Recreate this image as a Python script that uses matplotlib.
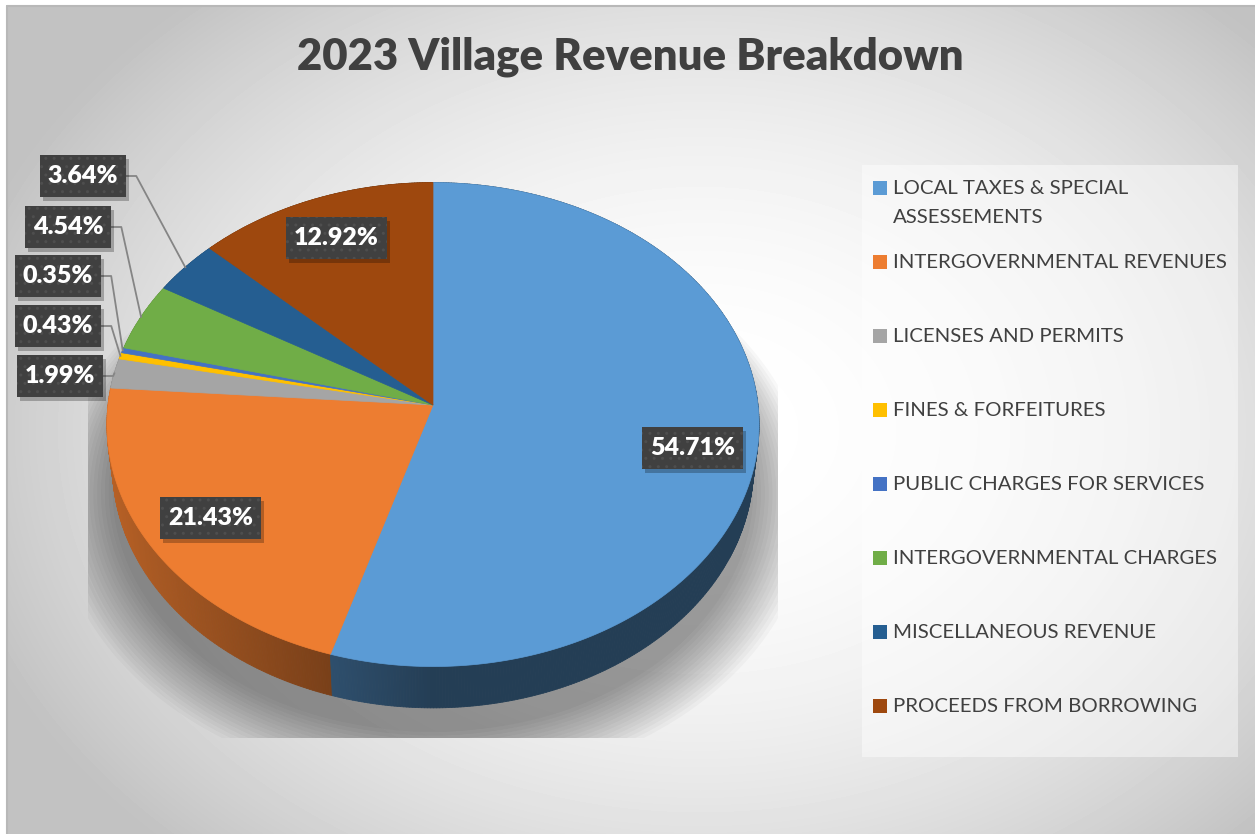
import numpy as np
import matplotlib.pyplot as plt
from matplotlib.patches import Rectangle, Polygon
from matplotlib.collections import PolyCollection

# data
categories = ["LOCAL TAXES & SPECIAL\nASSESSEMENTS", "INTERGOVERNMENTAL REVENUES",
              "LICENSES AND PERMITS", "FINES & FORFEITURES",
              "PUBLIC CHARGES FOR SERVICES", "INTERGOVERNMENTAL CHARGES",
              "MISCELLANEOUS REVENUE", "PROCEEDS FROM BORROWING"]
shares = [54.71, 21.43, 1.99, 0.43, 0.35, 4.54, 3.64, 12.92]
colors = ["#5B9BD5", "#ED7D31", "#A5A5A5", "#FFC000",
          "#4472C4", "#70AD47", "#255E91", "#9E480E"]
title = "2023 Village Revenue Breakdown"

# labels of thin slices sit in a column on the left (screen px)
outer_label_pos = {2: (60, 376), 3: (58, 326), 4: (58, 276), 5: (68, 227), 6: (83, 176)}

W, H = 1255, 834
FONT = "Lato"
plt.rcParams['font.family'] = [FONT, 'DejaVu Sans']

fig = plt.figure(figsize=(W / 100, H / 100), dpi=100, facecolor="white")
ax = fig.add_axes([0, 0, 1, 1])
ax.set_xlim(0, W)
ax.set_ylim(H, 0)
ax.axis("off")

# background radial gradient
yy, xx = np.mgrid[0:H, 0:W]
dn = np.sqrt(((xx - 700) / 640.0) ** 2 + ((yy - 430) / 480.0) ** 2)
bg = 1 - 0.24 * np.clip(dn / 1.2, 0, 1) ** 2
ax.imshow(bg[5:, 6:], cmap="gray", vmin=0, vmax=1, extent=(6, W, H, 5),
          zorder=0, interpolation="bilinear")
ax.plot([6.5, 6.5, W], [H, 5.5, 5.5], color="#b8b8b8", lw=1.5, zorder=1)

# 3d pie projection
cx, cy = 433, 405
tilt = np.radians(47.7)
D, f, depth = 8.32, 2704.0, 0.198
st, ct = np.sin(tilt), np.cos(tilt)


def proj(ang, r=1.0, z=0.0):
    x = r * np.sin(ang)
    y = r * np.cos(ang)
    v = y * st + z * ct
    w = D + y * ct - z * st
    return cx + f * x / w, cy - f * v / w


bounds = np.concatenate([[0], np.cumsum(shares)]) / sum(shares) * 2 * np.pi

# soft shadow clipped to the plot area
clip = Rectangle((88, 110), 690, 628, transform=ax.transData)
full = np.linspace(0, 2 * np.pi, 240)
bx, by = proj(full, 1.0, -depth)
for k in range(16):
    s = 1.0 + 0.012 * k
    sh = Polygon(np.column_stack([cx + (bx - cx) * s, cy + 24 + (by - cy) * s]),
                 closed=True, fc="black", ec="none", alpha=0.026, zorder=2)
    ax.add_patch(sh)
    sh.set_clip_path(clip)

# side walls, far to near
quads, qcols, keys = [], [], []
for i, c in enumerate(colors):
    base = np.array(plt.matplotlib.colors.to_rgb(c))
    n = max(2, int(np.degrees(bounds[i + 1] - bounds[i]) / 0.5) + 1)
    a = np.linspace(bounds[i], bounds[i + 1], n)
    for a0, a1 in zip(a[:-1], a[1:]):
        x0, y0 = proj(a0)
        x1, y1 = proj(a1)
        x2, y2 = proj(a1, 1.0, -depth)
        x3, y3 = proj(a0, 1.0, -depth)
        quads.append([(x0, y0), (x1, y1), (x2, y2), (x3, y3)])
        am = 0.5 * (a0 + a1)
        fac = 0.4 + 0.38 * max(0.0, -np.sin(am))
        qcols.append(base * fac)
        keys.append(-np.cos(am))
order = np.argsort(keys)
ax.add_collection(PolyCollection([quads[j] for j in order],
                                 facecolors=[qcols[j] for j in order],
                                 edgecolors=[qcols[j] for j in order],
                                 linewidths=0.6, zorder=3))

# top face
for i, c in enumerate(colors):
    n = max(2, int(np.degrees(bounds[i + 1] - bounds[i]) / 0.5) + 1)
    a = np.linspace(bounds[i], bounds[i + 1], n)
    px, py = proj(a)
    pts = np.column_stack([np.r_[cx, px], np.r_[cy, py]])
    ax.add_patch(Polygon(pts, closed=True, fc=c, ec=c, lw=0.5, zorder=4))

# data labels
plt.rcParams['hatch.linewidth'] = 1.0
renderer = fig.canvas.get_renderer()


def label_box(x, y, txt):
    t = ax.text(x, y, txt, ha="center", va="center", color="white",
                fontsize=18, fontweight="heavy", zorder=8)
    bb = t.get_window_extent(renderer)
    bw = bb.width + 16
    bh = 42
    ax.add_patch(Rectangle((x - bw / 2 + 3, y - bh / 2 + 4), bw, bh, fc="black",
                           ec="none", alpha=0.25, zorder=6))
    ax.add_patch(Rectangle((x - bw / 2, y - bh / 2), bw, bh, fc="#404040",
                           ec="#4e4e4e", hatch="..", lw=0, zorder=7))
    return x + bw / 2


for i, v in enumerate(shares):
    mid = 0.5 * (bounds[i] + bounds[i + 1])
    txt = f"{v:.2f}%"
    if i in outer_label_pos:
        lx, ly = outer_label_pos[i]
        right = label_box(lx, ly, txt)
        axx, ayy = proj(mid, 1.0)
        ax.plot([right, right + 10, axx], [ly, ly, ayy], color="#858585",
                lw=1.3, zorder=5)
    else:
        lx, ly = proj(mid, 0.8)
        label_box(lx, ly + (14 if i == 0 else 0), txt)

# title
ax.text(630, 57, title, ha="center", va="center", fontsize=31.4,
        fontweight="heavy", color="#404040", zorder=8)

# legend
ax.add_patch(Rectangle((862, 165), 376, 592, fc="white", ec="none", alpha=0.45,
                       zorder=2))
for i, (name, c) in enumerate(zip(categories, colors)):
    y = 188 + 74 * i
    ax.add_patch(Rectangle((873, y - 7), 14, 14, fc=c, ec="none", zorder=8))
    for j, line in enumerate(name.split("\n")):
        ax.text(893, y + 29 * j, line, ha="left", va="center", fontsize=14.7,
                color="#404040", zorder=8)

fig.savefig("out.png", dpi=100, facecolor="white")
